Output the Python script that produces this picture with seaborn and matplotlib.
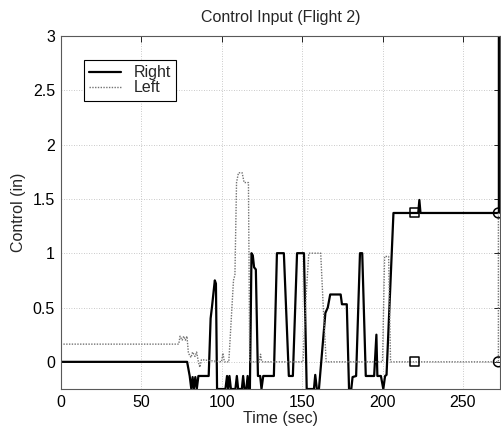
import matplotlib
matplotlib.use("Agg")
import matplotlib.pyplot as plt
import seaborn as sns
import pandas as pd

# ---- data ----
right_t = [0, 78.6, 80.2, 81.2, 82.0, 82.8, 83.7, 84.6, 85.6, 92.0, 93.2, 94.0, 95.8, 96.5, 97.2,
           102.4, 103.4, 104.1, 104.9, 105.8, 108.6, 109.5, 110.3, 112.6, 113.4, 114.2, 115.4,
           116.2, 116.9, 117.6, 118.6, 119.4, 120.2, 121.3, 122.6, 124.0, 124.8, 125.9, 132.5,
           134.4, 138.7, 141.8, 144.3, 146.9, 151.2, 152.9, 157.4, 158.2, 159.2, 160.5, 164.5,
           166.0, 167.5, 174.0, 174.8, 177.8, 179.2, 180.6, 181.4, 183.6, 186.0, 187.4, 189.6,
           194.8, 196.2, 196.8, 199.0, 200.5, 201.6, 202.5, 206.8, 222.2, 222.9, 223.6, 272.3, 272.3]
right_y = [0, 0, -0.13, -0.25, -0.14, -0.25, -0.14, -0.25, -0.13, -0.13, 0.40, 0.50, 0.75, 0.72, -0.25,
           -0.25, -0.13, -0.25, -0.13, -0.25, -0.25, -0.13, -0.25, -0.25, -0.13, -0.25, -0.25,
           -0.13, -0.25, -0.25, 1.0, 0.98, 0.87, 0.85, -0.13, -0.13, -0.25, -0.13, -0.13,
           1.0, 1.0, -0.13, -0.13, 1.0, 1.0, -0.25, -0.25, -0.12, -0.25, -0.25, 0.45,
           0.50, 0.62, 0.62, 0.53, 0.53, -0.25, -0.25, -0.14, -0.13, 1.0, 1.0, -0.13,
           -0.13, 0.25, -0.13, -0.13, -0.25, -0.13, -0.12, 1.37, 1.37, 1.49, 1.37, 1.37, 3.1]

left_t = [0, 73.4, 74.2, 75.5, 76.5, 77.5, 78.5, 79.4, 81.0, 82.0, 83.5, 84.5, 85.6, 86.5, 87.5,
          100.0, 100.8, 101.8, 104.5, 107.4, 108.3, 109.3, 110.5, 112.8, 114.0, 116.7, 117.5,
          123.5, 124.2, 125.0, 150.6, 152.5, 154.2, 161.6, 163.2, 165.0, 200.0, 201.3, 203.8,
          205.0, 272.0, 272.0]
left_y = [0.163, 0.163, 0.236, 0.20, 0.236, 0.20, 0.236, 0.08, 0.04, 0.09, 0.05, 0.09, 0.0, -0.05, 0.02,
          0.0, 0.08, 0.0, 0.0, 0.75, 0.80, 1.65, 1.74, 1.74, 1.65, 1.65, 0.0,
          0.0, 0.07, 0.0, 0.0, 0.60, 1.0, 1.0, 0.50, 0.0, 0.0, 0.97, 0.97,
          0.0, 0.0, 1.37]

square_t = [219.7, 219.7]
square_y = [1.37, 0.0]
circle_t = [272.0, 272.0]
circle_y = [1.37, 0.0]

x_ticks = [0, 50, 100, 150, 200, 250]
y_ticks = [0, 0.5, 1, 1.5, 2, 2.5, 3]
y_ticklabels = ["0", "0.5", "1", "1.5", "2", "2.5", "3"]

title = "Control Input (Flight 2)"
xlabel = "Time (sec)"
ylabel = "Control (in)"

FS = 11.5

# ---- style ----
sns.set_style("white")
plt.rcParams["font.family"] = ["Liberation Sans", "DejaVu Sans"]
plt.rcParams["font.size"] = FS

fig = plt.figure(figsize=(5.01, 4.32), dpi=100)
ax = fig.add_axes([0.121, 0.0995, 0.877, 0.8175])

df_r = pd.DataFrame({"t": right_t, "v": right_y})
df_l = pd.DataFrame({"t": left_t, "v": left_y})

sns.lineplot(data=df_r, x="t", y="v", sort=False, estimator=None, ax=ax,
             color="black", linewidth=1.6, label="Right")
sns.lineplot(data=df_l, x="t", y="v", sort=False, estimator=None, ax=ax,
             color="0.45", linewidth=1.0, linestyle=(0, (1, 1)), label="Left")

sns.scatterplot(x=square_t, y=square_y, marker="s", s=42, facecolor="none",
                edgecolor="black", linewidth=1.1, ax=ax, zorder=5)
sns.scatterplot(x=circle_t, y=circle_y, marker="o", s=50, facecolor="none",
                edgecolor="black", linewidth=1.1, ax=ax, zorder=5)

ax.set_xlim(0, 273)
ax.set_ylim(-0.25, 3)
ax.set_xticks(x_ticks)
ax.set_yticks(y_ticks)
ax.set_yticklabels(y_ticklabels)

ax.grid(True, linestyle=(0, (1, 2)), color="0.72", linewidth=0.6)
ax.tick_params(direction="in", length=4, width=0.6, top=True, right=True,
               labelsize=FS, colors="black", pad=4)
for s in ax.spines.values():
    s.set_color("0.35")
    s.set_linewidth(0.8)

ax.set_title(title, fontsize=FS, pad=10)
ax.set_xlabel(xlabel, fontsize=FS, labelpad=1)
ax.set_ylabel(ylabel, fontsize=FS, labelpad=5)

leg = ax.legend(loc="upper left", bbox_to_anchor=(0.053, 0.932), borderaxespad=0,
                fontsize=FS, frameon=True, fancybox=False, framealpha=1,
                edgecolor="black", handlelength=2.0, handletextpad=0.75,
                borderpad=0.35, labelspacing=0.0)
leg.get_frame().set_linewidth(0.8)

fig.savefig("out.png", dpi=100)
